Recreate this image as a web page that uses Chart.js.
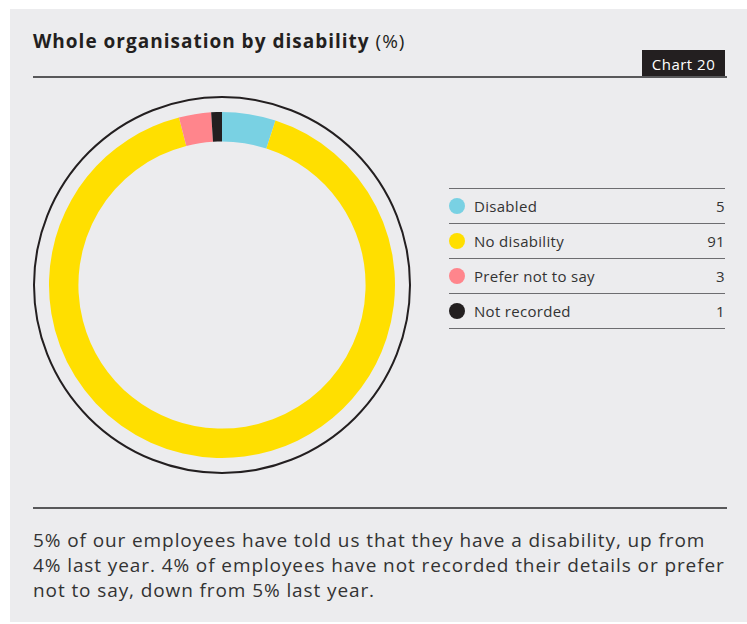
<!DOCTYPE html>
<html>
<head>
<meta charset="utf-8">
<script src="https://cdn.jsdelivr.net/npm/chart.js@4"></script>
<style>
  html, body { margin: 0; padding: 0; background: #fff; }
  body { width: 747px; height: 624px; position: relative; overflow: hidden; font-family: "Open Sans", "Noto Sans", sans-serif; color: #231f20; }
  #panel { position: absolute; left: 10px; top: 9px; width: 737px; height: 613px; background: #ececee; }
  #title { position: absolute; left: 33px; top: 28px; font-size: 19px; font-weight: 700; white-space: nowrap; letter-spacing: 1px; }
  #title span { font-weight: 400; letter-spacing: 1px; }
  #rule-top { position: absolute; left: 33px; top: 76px; width: 694px; height: 1.5px; background: #58585a; }
  #tag { position: absolute; left: 642px; top: 50px; width: 83px; height: 28px; background: #231f20; color: #fff; font-size: 15px; line-height: 28px; text-align: center; letter-spacing: 0.5px; }
  #wrap { position: absolute; left: 30px; top: 93px; width: 384px; height: 384px; }
  #legend { position: absolute; left: 449px; top: 188px; width: 276px; }
  .row { height: 34px; border-top: 1.5px solid #6d6d70; position: relative; font-size: 15px; color: #333; letter-spacing: 0.3px; }
  .row:last-child { border-bottom: 1.5px solid #6d6d70; }
  .dot { position: absolute; left: 0px; top: 9px; width: 16px; height: 16px; border-radius: 50%; }
  .lab { position: absolute; left: 25px; top: 7px; }
  .val { position: absolute; right: 0; top: 7px; }
  #rule-bot { position: absolute; left: 33px; top: 507px; width: 694px; height: 1.5px; background: #58585a; }
  #note { position: absolute; left: 33px; top: 528px; white-space: nowrap; font-size: 19px; line-height: 25px; color: #333; letter-spacing: 0.9px; }
</style>
</head>
<body>
<div id="panel"></div>
<div id="title">Whole organisation by disability <span>(%)</span></div>
<div id="tag">Chart 20</div>
<div id="rule-top"></div>
<div id="wrap"><canvas id="donut" width="384" height="384"></canvas></div>
<div id="legend"></div>
<div id="rule-bot"></div>
<div id="note">5% of our employees have told us that they have a disability, up from<br>4% last year. 4% of employees have not recorded their details or prefer<br>not to say, down from 5% last year.</div>
<script>
const categories = ["Disabled", "No disability", "Prefer not to say", "Not recorded"];
const values = [5, 91, 3, 1];
const colours = ["#79d1e3", "#ffdf00", "#ff858c", "#231f20"];

// legend rows built from the arrays
const legend = document.getElementById("legend");
categories.forEach((c, i) => {
  const row = document.createElement("div");
  row.className = "row";
  row.innerHTML = `<div class="dot" style="background:${colours[i]}"></div><div class="lab">${c}</div><div class="val">${values[i]}</div>`;
  legend.appendChild(row);
});

//thin black ring round the doughnut
const outerRing = {
  id: "outerRing",
  afterDraw(chart) {
    const arc = chart.getDatasetMeta(0).data[0];
    if (!arc) return;
    const ctx = chart.ctx;
    ctx.save();
    ctx.beginPath();
    ctx.arc(arc.x, arc.y, arc.outerRadius + 15, 0, Math.PI * 2);
    ctx.lineWidth = 2;
    ctx.strokeStyle = "#231f20";
    ctx.stroke();
    ctx.restore();
  },
};

new Chart(document.getElementById("donut"), {
  type: "doughnut",
  plugins: [outerRing],
  data: {
    labels: categories,
    datasets: [{ data: values, backgroundColor: colours, borderWidth: 0 }],
  },
  options: {
    responsive: false,
    animation: false,
    cutout: "83%",
    layout: { padding: 19 },
    plugins: { legend: { display: false }, tooltip: { enabled: false } },
  },
});
</script>
</body>
</html>
